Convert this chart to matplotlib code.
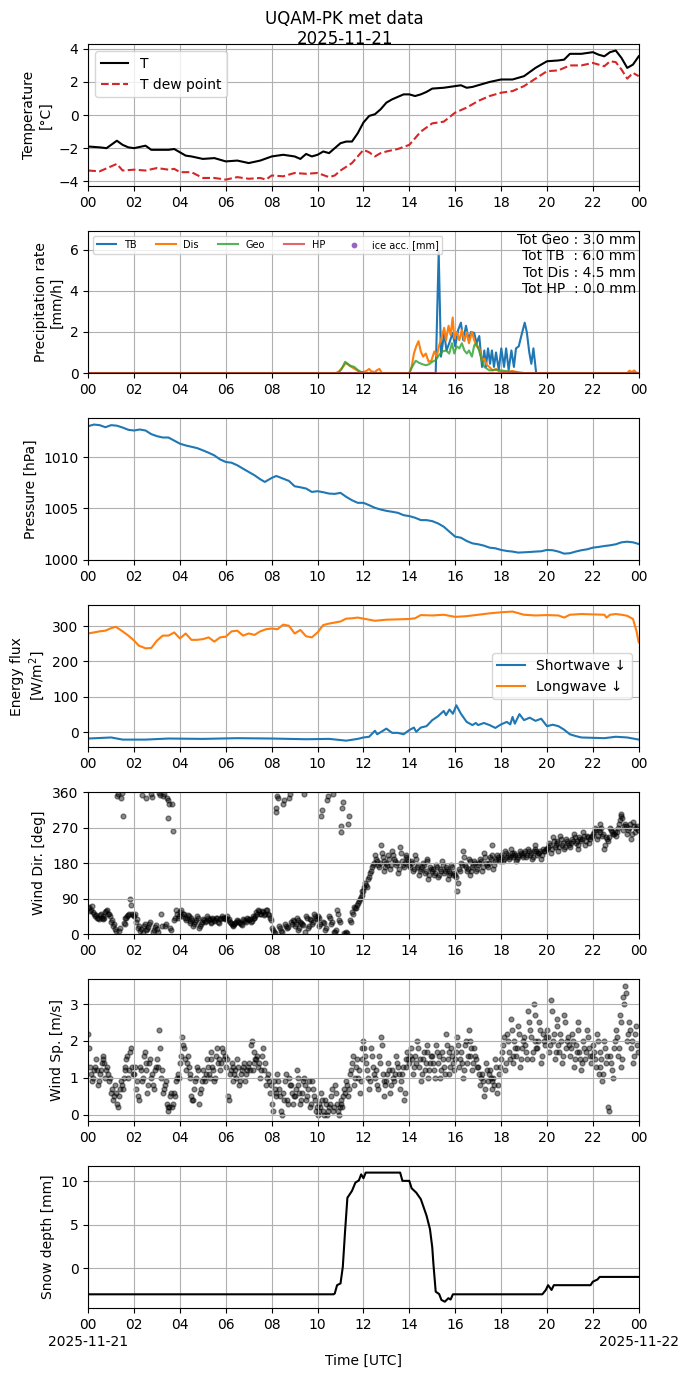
import numpy as np
import matplotlib
matplotlib.use("Agg")
import matplotlib.pyplot as plt

# ---- temperature (hours UTC, degC)
t_hours = [0, 0.5, 0.8, 1.0, 1.25, 1.5, 1.75, 2.0, 2.5, 2.75, 3.0, 3.5, 3.75, 4.0, 4.25,
           4.5, 5.0, 5.5, 6.0, 6.5, 7.0, 7.5, 8.0, 8.5, 9.0, 9.25, 9.5, 9.75, 10.0, 10.25,
           10.5, 10.75, 11.0, 11.25, 11.5, 11.75, 12.0, 12.25, 12.5, 12.75, 13.0, 13.25,
           13.5, 13.75, 14.0, 14.25, 14.5, 14.75, 15.0, 15.5, 16.0, 16.25, 16.5, 16.75,
           17.0, 17.5, 18.0, 18.5, 19.0, 19.5, 20.0, 20.5, 20.75, 21.0, 21.5, 22.0, 22.25,
           22.5, 22.75, 23.0, 23.25, 23.5, 23.75, 24.0]
temp = [-1.9, -1.95, -2.0, -1.8, -1.55, -1.8, -1.95, -2.0, -1.85, -2.1, -2.1, -2.1, -2.05,
        -2.25, -2.45, -2.5, -2.65, -2.6, -2.8, -2.75, -2.9, -2.75, -2.5, -2.4, -2.5, -2.65,
        -2.35, -2.5, -2.4, -2.2, -2.3, -2.0, -1.7, -1.6, -1.6, -1.1, -0.45, -0.05, 0.05,
        0.35, 0.75, 0.95, 1.1, 1.25, 1.25, 1.15, 1.25, 1.4, 1.6, 1.65, 1.75, 1.8, 1.65,
        1.7, 1.8, 2.0, 2.15, 2.15, 2.35, 2.85, 3.25, 3.3, 3.35, 3.7, 3.7, 3.8, 3.65, 3.55,
        3.8, 3.9, 3.45, 2.85, 3.05, 3.55]

td_hours = [0, 0.5, 1.0, 1.25, 1.5, 2.0, 2.5, 3.0, 3.5, 3.75, 4.0, 4.5, 5.0, 5.5, 6.0, 6.5,
            7.0, 7.5, 7.75, 8.0, 8.5, 9.0, 9.5, 10.0, 10.5, 10.75, 11.0, 11.5, 12.0, 12.25,
            12.5, 12.75, 13.0, 13.5, 14.0, 14.5, 15.0, 15.5, 16.0, 16.5, 17.0, 17.5, 18.0,
            18.5, 19.0, 19.5, 20.0, 20.5, 21.0, 21.5, 22.0, 22.5, 22.75, 23.0, 23.25, 23.5,
            23.75, 24.0]
dewpoint = [-3.35, -3.4, -3.1, -2.95, -3.35, -3.3, -3.35, -3.2, -3.3, -3.25, -3.45, -3.45,
            -3.8, -3.8, -3.9, -3.75, -3.85, -3.8, -3.9, -3.65, -3.7, -3.5, -3.55, -3.5,
            -3.75, -3.65, -3.35, -2.9, -2.1, -2.25, -2.5, -2.3, -2.2, -2.05, -1.8, -1.0,
            -0.5, -0.4, 0.15, 0.45, 0.85, 1.15, 1.35, 1.45, 1.75, 2.2, 2.65, 2.7, 3.0, 3.0,
            3.15, 2.95, 3.25, 3.2, 2.75, 2.2, 2.55, 2.35]

# ---- precipitation rate (mm/h)
tb_hours = [0, 15.15, 15.28, 15.38, 15.52, 15.62, 15.74, 15.89, 16.0, 16.13, 16.25, 16.35,
            16.47, 16.59, 16.69, 16.83, 16.93, 17.05, 17.17, 17.27, 17.34, 17.43, 17.52,
            17.6, 17.69, 17.78, 17.9, 18.01, 18.13, 18.22, 18.33, 18.45, 18.56, 18.65,
            18.77, 18.88, 19.03, 19.12, 19.23, 19.32, 19.41, 19.53, 24]
tb_rate = [0, 0, 5.9, 0.8, 1.95, 1.1, 1.45, 1.95, 1.3, 2.1, 2.45, 1.6, 2.3, 1.6, 2.0, 1.95,
           1.45, 1.8, 0.3, 1.1, 0.3, 1.2, 0.45, 1.1, 0.3, 1.0, 0.15, 1.2, 0.3, 1.2, 0.15,
           1.1, 0.3, 1.2, 1.3, 1.8, 2.45, 2.0, 1.0, 0.45, 1.2, 0.0, 0]

dis_hours = [0, 10.8, 10.95, 11.1, 11.25, 11.4, 11.55, 11.7, 11.85, 12.0, 12.15, 12.25,
             12.35, 12.5, 12.6, 12.7, 12.8, 14.0, 14.1, 14.2, 14.3, 14.4, 14.5, 14.6,
             14.72, 14.84, 14.96, 15.09, 15.19, 15.3, 15.4, 15.52, 15.6, 15.71, 15.8,
             15.89, 15.96, 16.06, 16.18, 16.29, 16.4, 16.5, 16.6, 16.73, 16.83, 16.93,
             17.05, 17.17, 17.27, 17.37, 17.49, 17.63, 17.78, 17.93, 18.2, 18.5, 18.8,
             19.0, 23.5, 23.6, 23.7, 23.8, 23.9, 24]
dis_rate = [0, 0, 0.1, 0.3, 0.5, 0.35, 0.25, 0.15, 0.05, 0.05, 0.12, 0.2, 0.08, 0.05, 0.15,
            0.2, 0.0, 0.0, 0.3, 0.95, 1.3, 1.55, 1.05, 0.8, 0.95, 0.55, 0.6, 1.05, 0.8,
            1.35, 1.7, 2.2, 1.6, 2.3, 1.85, 2.7, 1.7, 2.0, 1.6, 2.1, 1.55, 2.0, 1.45, 2.0,
            1.6, 1.3, 1.2, 0.6, 0.7, 0.4, 0.3, 0.13, 0.2, 0.07, 0.05, 0.1, 0.02, 0.0, 0.0,
            0.12, 0.05, 0.13, 0.02, 0]

geo_hours = [0, 10.9, 11.05, 11.2, 11.3, 11.45, 11.6, 11.75, 11.9, 12.1, 14.0, 14.12,
             14.28, 14.42, 14.57, 14.72, 14.86, 15.0, 15.15, 15.3, 15.45, 15.6, 15.74,
             15.86, 15.96, 16.06, 16.18, 16.29, 16.4, 16.51, 16.6, 16.73, 16.83, 16.93,
             17.05, 17.17, 17.27, 17.49, 17.78, 18.2, 18.5, 18.8, 19.0, 24]
geo_rate = [0, 0, 0.2, 0.55, 0.45, 0.35, 0.3, 0.15, 0.05, 0.0, 0.0, 0.3, 0.6, 0.5, 0.43,
            0.38, 0.43, 0.55, 0.63, 0.88, 1.05, 1.1, 0.95, 1.45, 0.95, 1.3, 1.2, 1.45, 1.1,
            0.95, 1.1, 0.8, 1.35, 1.45, 1.05, 0.55, 0.3, 0.13, 0.16, 0.1, 0.05, 0.02, 0.0, 0]

hp_hours = [0, 24]
hp_rate = [0, 0]

precip_totals = {"Geo": 3.0, "TB": 6.0, "Dis": 4.5, "HP": 0.0}

# ---- pressure (hPa)
p_hours = [0, 0.25, 0.5, 0.75, 1.0, 1.25, 1.5, 1.75, 2.0, 2.25, 2.5, 2.75, 3.0, 3.25, 3.5,
           3.75, 4.0, 4.25, 4.5, 4.75, 5.0, 5.25, 5.5, 5.75, 6.0, 6.25, 6.5, 6.75, 7.0,
           7.25, 7.5, 7.7, 8.0, 8.2, 8.5, 8.75, 9.0, 9.25, 9.5, 9.75, 10.0, 10.25, 10.5,
           10.75, 11.0, 11.25, 11.5, 11.75, 12.0, 12.25, 12.5, 12.75, 13.0, 13.25, 13.5,
           13.75, 14.0, 14.25, 14.5, 14.75, 15.0, 15.25, 15.5, 15.75, 16.0, 16.25, 16.5,
           16.75, 17.0, 17.25, 17.5, 17.75, 18.0, 18.25, 18.5, 18.75, 19.0, 19.25, 19.5,
           19.75, 20.0, 20.25, 20.5, 20.75, 21.0, 21.25, 21.5, 21.75, 22.0, 22.25, 22.5,
           22.75, 23.0, 23.25, 23.5, 23.75, 24.0]
pressure = [1013.0, 1013.16, 1013.1, 1012.9, 1013.1, 1013.05, 1012.87, 1012.65, 1012.58,
            1012.68, 1012.58, 1012.23, 1012.03, 1011.9, 1011.9, 1011.6, 1011.3, 1011.13,
            1011.0, 1010.87, 1010.65, 1010.42, 1010.16, 1009.77, 1009.52, 1009.45, 1009.2,
            1008.87, 1008.55, 1008.23, 1007.84, 1007.58, 1007.97, 1008.16, 1007.9, 1007.68,
            1007.16, 1007.06, 1006.94, 1006.61, 1006.68, 1006.58, 1006.45, 1006.42,
            1006.52, 1006.13, 1005.8, 1005.55, 1005.55, 1005.32, 1005.06, 1004.9, 1004.77,
            1004.68, 1004.58, 1004.35, 1004.26, 1004.1, 1003.87, 1003.87, 1003.77,
            1003.55, 1003.23, 1002.74, 1002.26, 1002.16, 1001.84, 1001.61, 1001.52,
            1001.39, 1001.19, 1001.13, 1000.97, 1000.87, 1000.81, 1000.71, 1000.74,
            1000.77, 1000.81, 1000.84, 1000.97, 1000.94, 1000.81, 1000.61, 1000.65,
            1000.81, 1000.94, 1001.03, 1001.19, 1001.26, 1001.35, 1001.42, 1001.52,
            1001.71, 1001.77, 1001.71, 1001.55]

# ---- radiation (W/m2)
lw_hours = [0, 0.5, 0.75, 1.0, 1.2, 1.5, 1.75, 2.0, 2.2, 2.5, 2.75, 3.0, 3.25, 3.5, 3.75,
            4.0, 4.25, 4.5, 4.75, 5.0, 5.25, 5.5, 5.75, 6.0, 6.25, 6.5, 6.75, 7.0, 7.25,
            7.5, 7.75, 8.0, 8.25, 8.5, 8.75, 9.0, 9.25, 9.5, 9.75, 10.0, 10.25, 10.5,
            10.75, 11.0, 11.25, 11.5, 11.75, 12.0, 12.5, 13.0, 13.5, 14.0, 14.25, 14.5,
            15.0, 15.5, 16.0, 16.5, 17.0, 17.5, 18.0, 18.5, 19.0, 19.5, 20.0, 20.5, 20.75,
            21.0, 21.5, 22.0, 22.5, 22.6, 22.75, 23.0, 23.25, 23.5, 23.75, 23.9, 24.0]
longwave = [279, 285, 287, 294, 298, 285, 273, 259, 245, 237, 238, 259, 273, 273, 282, 265,
            279, 261, 261, 263, 268, 256, 268, 270, 285, 287, 273, 279, 275, 285, 291, 293,
            291, 304, 301, 279, 289, 271, 268, 282, 303, 307, 310, 313, 321, 322, 324, 321,
            315, 318, 319, 320, 322, 331, 330, 332, 326, 328, 332, 336, 339, 341, 332, 330,
            331, 330, 324, 332, 334, 333, 332, 324, 332, 334, 332, 329, 320, 287, 254]

sw_hours = [0, 1.0, 1.5, 2.5, 3.5, 5.0, 6.5, 8.0, 9.5, 10.5, 11.25, 11.75, 12.0, 12.25,
            12.5, 12.6, 13.0, 13.25, 13.5, 13.75, 14.0, 14.2, 14.3, 14.5, 14.75, 15.0,
            15.25, 15.5, 15.6, 15.75, 15.9, 16.05, 16.25, 16.5, 16.75, 16.9, 17.0, 17.25,
            17.5, 17.75, 18.0, 18.25, 18.4, 18.5, 18.6, 18.8, 19.0, 19.25, 19.5, 19.75,
            20.0, 20.25, 20.5, 20.75, 21.0, 21.25, 21.5, 22.0, 22.5, 23.0, 23.5, 24.0]
shortwave = [-18, -15, -21, -21, -18, -19, -17, -18, -20, -19, -24, -19, -15, -13, 4, -6,
             10, -2, -2, -6, 6, 13, 1, 13, 17, 34, 45, 60, 48, 64, 52, 76, 52, 29, 20, 26,
             20, 26, 20, 12, 22, 29, 22, 43, 24, 51, 34, 41, 32, 38, 17, 21, 17, 7, -6,
             -11, -15, -16, -17, -13, -15, -21]

# ---- wind, one row per hour, 2.5 min sampling
wind_dir_rows = [
    [65, 70, 58, 62, 72, 55, 50, 45, 48, 40, 42, 38, 48, 52, 42, 45, 38, 40, 55, 58, 60, 52, 50, 45],
    [30, 35, 20, 25, 12, 8, 350, 355, 8, 15, 345, 358, 300, 28, 25, 40, 40, 45, 48, 52, 88, 75, 52, 48],
    [45, 50, 30, 38, 15, 20, 8, 12, 352, 5, 20, 25, 345, 10, 12, 18, 25, 30, 355, 348, 5, 10, 18, 22],
    [12, 5, 358, 352, 50, 20, 350, 355, 20, 25, 345, 340, 295, 330, 15, 10, 330, 262, 35, 40, 60, 50, 40, 45],
    [55, 60, 45, 50, 50, 42, 35, 40, 48, 45, 28, 32, 40, 35, 20, 25, 30, 35, 45, 40, 15, 20, 25, 30],
    [38, 35, 30, 32, 45, 42, 35, 38, 28, 30, 40, 38, 32, 35, 42, 40, 30, 28, 38, 40, 45, 42, 40, 38],
    [42, 45, 35, 38, 30, 28, 25, 22, 20, 25, 28, 30, 35, 32, 30, 28, 25, 22, 38, 35, 32, 30, 40, 38],
    [35, 38, 30, 32, 45, 42, 40, 45, 55, 50, 62, 58, 50, 52, 58, 55, 48, 52, 60, 62, 52, 48, 40, 35],
    [15, 10, 5, 2, 310, 320, 350, 345, 20, 15, 8, 5, 330, 340, 25, 20, 15, 18, 345, 355, 30, 25, 35, 32],
    [20, 25, 40, 35, 10, 15, 30, 28, 25, 22, 355, 5, 45, 40, 15, 20, 38, 35, 25, 30, 50, 45, 40, 38],
    [45, 42, 20, 25, 300, 315, 30, 28, 10, 15, 340, 350, 45, 40, 25, 30, 355, 5, 5, 10, 60, 50, 35, 30],
    [260, 275, 320, 335, 2, 0, 5, 3, 280, 300, 35, 30, 55, 50, 70, 65, 65, 75, 80, 85, 90, 95, 100, 110],
    [110, 120, 130, 125, 120, 140, 145, 155, 160, 170, 175, 180, 200, 190, 185, 175, 170, 180, 225, 205, 195, 185, 160, 170],
    [180, 175, 200, 190, 165, 175, 210, 200, 190, 185, 175, 180, 155, 165, 220, 205, 185, 175, 170, 180, 200, 195, 190, 185],
    [175, 170, 185, 180, 160, 165, 200, 190, 170, 175, 150, 160, 165, 170, 180, 175, 155, 160, 190, 185, 140, 150, 170, 165],
    [160, 165, 150, 155, 175, 170, 145, 150, 165, 160, 185, 175, 155, 160, 170, 165, 140, 150, 160, 155, 175, 170, 150, 155],
    [150, 145, 110, 130, 165, 160, 180, 175, 210, 195, 175, 170, 160, 165, 190, 185, 150, 160, 170, 175, 185, 180, 160, 165],
    [175, 180, 190, 185, 160, 170, 205, 195, 180, 175, 170, 180, 195, 190, 225, 200, 165, 175, 185, 190, 200, 195, 190, 185],
    [200, 195, 185, 190, 210, 205, 195, 200, 190, 195, 215, 205, 200, 195, 205, 200, 185, 190, 195, 200, 210, 205, 200, 195],
    [205, 210, 195, 200, 215, 210, 200, 205, 190, 195, 210, 215, 225, 210, 200, 205, 205, 210, 190, 200, 215, 210, 210, 215],
    [215, 220, 230, 225, 205, 215, 245, 235, 220, 225, 235, 230, 210, 220, 250, 240, 225, 230, 215, 220, 240, 235, 230, 225],
    [220, 230, 240, 235, 255, 245, 230, 235, 215, 225, 245, 240, 235, 240, 260, 250, 225, 235, 250, 245, 230, 240, 245, 250],
    [255, 260, 270, 265, 240, 250, 265, 260, 280, 270, 250, 255, 215, 225, 245, 240, 235, 245, 270, 265, 260, 255, 255, 260],
    [250, 260, 270, 280, 290, 300, 305, 295, 265, 275, 280, 275, 255, 265, 270, 280, 240, 255, 285, 275, 260, 270, 275, 265],
]
wind_sp_rows = [
    [2.2, 1.8, 1.3, 1.1, 0.9, 1.0, 1.2, 1.3, 1.5, 1.2, 0.8, 0.9, 1.1, 1.2, 1.4, 1.5, 1.6, 1.4, 1.0, 1.2, 1.3, 1.1, 0.9, 1.0],
    [0.6, 0.7, 0.4, 0.5, 0.8, 0.6, 0.3, 0.2, 0.5, 0.7, 0.9, 0.8, 0.7, 1.0, 1.2, 1.3, 1.5, 1.6, 1.0, 1.2, 1.7, 1.8, 1.3, 1.1],
    [1.1, 1.3, 0.7, 0.9, 0.5, 0.4, 1.3, 1.2, 0.9, 1.0, 1.6, 1.7, 1.2, 1.4, 0.6, 0.8, 1.4, 1.5, 1.0, 1.1, 0.8, 0.7, 1.2, 1.3],
    [1.5, 1.3, 2.3, 1.8, 1.0, 1.2, 0.6, 0.7, 0.8, 0.9, 0.3, 0.2, 0.1, 0.2, 0.5, 0.6, 0.2, 0.3, 0.6, 0.5, 0.9, 1.0, 1.1, 1.0],
    [1.4, 1.6, 2.1, 1.9, 1.8, 1.5, 1.2, 1.4, 1.6, 1.3, 1.0, 1.1, 0.5, 0.4, 0.4, 0.7, 0.9, 1.0, 1.3, 1.2, 0.3, 0.6, 0.7, 0.9],
    [1.2, 1.0, 0.9, 1.1, 1.5, 1.3, 1.1, 1.0, 1.7, 1.5, 1.3, 1.2, 0.9, 1.0, 1.6, 1.8, 1.4, 1.5, 1.2, 1.4, 1.8, 1.7, 1.5, 1.6],
    [1.3, 1.5, 0.5, 0.4, 1.1, 1.2, 1.4, 1.3, 0.9, 1.1, 1.2, 1.0, 1.5, 1.3, 0.8, 0.9, 1.1, 1.2, 1.3, 1.4, 0.9, 1.1, 1.2, 1.3],
    [1.4, 1.2, 1.9, 2.0, 1.2, 1.4, 1.7, 1.5, 1.5, 1.6, 1.3, 1.4, 1.0, 1.2, 1.6, 1.8, 1.2, 1.4, 0.8, 1.0, 1.1, 0.9, 0.6, 0.8],
    [0.3, 0.1, 0.9, 0.7, 0.5, 0.6, 1.1, 0.9, 0.7, 0.5, 0.1, 0.0, 0.6, 0.4, 0.9, 1.1, 0.4, 0.3, 1.0, 0.8, 0.8, 0.6, 0.3, 0.5],
    [0.5, 0.7, 1.2, 1.0, 0.8, 0.6, 0.3, 0.4, 0.6, 0.9, 1.0, 0.8, 0.4, 0.5, 0.7, 0.9, 0.2, 0.3, 0.9, 0.7, 0.5, 0.4, 0.1, 0.2],
    [0.0, 0.1, 0.3, 0.2, 0.6, 0.4, 0.1, 0.0, 0.4, 0.3, 0.0, 0.1, 0.2, 0.3, 0.5, 0.7, 0.1, 0.2, 0.8, 0.6, 0.3, 0.1, 0.0, 0.2],
    [0.4, 0.3, 0.2, 0.5, 0.7, 0.6, 0.9, 0.8, 0.5, 0.7, 1.1, 1.2, 1.4, 1.6, 0.8, 1.0, 1.3, 1.5, 1.0, 1.2, 0.6, 0.9, 1.5, 1.8],
    [2.0, 1.8, 1.6, 1.4, 1.2, 1.0, 0.7, 0.9, 1.8, 1.6, 1.3, 1.1, 1.0, 1.2, 0.8, 0.7, 1.6, 1.4, 2.1, 1.9, 1.1, 0.9, 0.5, 0.8],
    [0.9, 1.1, 1.4, 1.2, 0.6, 0.8, 1.2, 1.0, 0.9, 1.1, 1.6, 1.4, 1.3, 1.1, 0.7, 0.9, 1.1, 1.3, 0.4, 0.6, 1.5, 1.3, 1.7, 1.5],
    [1.4, 1.6, 1.8, 1.5, 1.1, 1.3, 1.6, 1.4, 2.0, 1.8, 1.3, 1.5, 0.9, 1.1, 1.5, 1.7, 1.2, 1.4, 1.7, 1.9, 1.0, 1.2, 1.4, 1.6],
    [1.6, 1.4, 1.2, 1.0, 1.9, 1.7, 1.4, 1.6, 1.0, 1.2, 1.7, 1.5, 1.3, 1.1, 2.2, 1.9, 1.5, 1.7, 1.1, 1.3, 1.8, 1.6, 1.4, 1.2],
    [1.5, 1.7, 2.1, 1.9, 1.3, 1.5, 1.7, 1.4, 1.0, 1.2, 1.9, 2.0, 1.4, 1.6, 2.3, 2.0, 1.6, 1.8, 1.2, 1.4, 1.8, 1.6, 1.5, 1.3],
    [1.3, 1.1, 0.8, 1.0, 1.1, 0.9, 0.5, 0.7, 1.4, 1.2, 0.9, 1.1, 1.2, 1.0, 0.7, 0.9, 1.0, 0.8, 1.5, 1.3, 0.6, 0.8, 1.1, 1.3],
    [1.5, 1.7, 1.9, 2.1, 1.2, 1.4, 2.2, 2.0, 1.7, 1.5, 2.6, 2.3, 1.4, 1.6, 2.0, 1.8, 1.6, 1.8, 2.4, 2.2, 1.3, 1.5, 1.8, 2.0],
    [2.1, 1.9, 1.7, 1.5, 2.8, 2.5, 2.3, 2.1, 1.5, 1.7, 3.0, 2.7, 2.0, 1.8, 1.8, 2.0, 2.5, 2.3, 1.4, 1.6, 2.2, 2.0, 1.9, 2.1],
    [2.3, 2.1, 1.7, 1.9, 3.1, 2.8, 2.0, 2.2, 1.5, 1.7, 2.6, 2.4, 1.9, 1.7, 2.2, 2.0, 1.4, 1.6, 2.7, 2.5, 1.8, 2.0, 2.1, 1.9],
    [1.6, 1.8, 2.2, 2.0, 1.3, 1.5, 1.9, 1.7, 2.5, 2.3, 1.7, 1.5, 1.2, 1.4, 2.0, 1.8, 1.5, 1.7, 2.3, 2.1, 1.8, 1.6, 1.4, 1.6],
    [1.9, 1.7, 1.5, 1.3, 2.2, 2.0, 1.1, 1.3, 1.7, 1.5, 0.9, 1.1, 2.0, 1.8, 1.4, 1.6, 0.2, 0.1, 1.6, 1.4, 1.2, 1.0, 1.8, 2.0],
    [2.3, 2.1, 1.6, 1.8, 2.7, 2.5, 1.3, 1.5, 3.2, 3.0, 3.5, 3.3, 2.0, 2.2, 2.5, 2.3, 1.8, 2.0, 1.4, 1.6, 2.2, 2.4, 1.9, 1.7],
]

# ---- snow depth (mm)
snow_hours = [0, 10.7, 10.75, 10.85, 11.0, 11.1, 11.2, 11.3, 11.5, 11.65, 11.8, 11.9, 12.0,
              12.1, 13.6, 13.7, 14.0, 14.1, 14.3, 14.5, 14.6, 14.75, 14.9, 15.0, 15.05,
              15.15, 15.3, 15.4, 15.55, 15.7, 15.8, 15.9, 19.8, 19.95, 20.05, 20.2, 20.3,
              21.9, 22.0, 22.2, 22.3, 24.0]
snow_depth = [-3.0, -3.0, -2.9, -1.95, -1.75, 0.15, 4.3, 8.1, 8.9, 9.85, 10.1, 10.8, 10.35,
              11.0, 11.0, 10.05, 10.05, 9.2, 8.7, 7.95, 7.2, 6.05, 4.5, 2.4, 0.5, -2.7,
              -2.97, -3.65, -3.85, -3.45, -3.6, -3.0, -3.0, -2.5, -1.95, -2.5, -1.95, -1.95,
              -1.55, -1.3, -1.0, -1.0]

hour_ticks = list(range(0, 25, 2))
hour_labels = ["%02d" % (h % 24) for h in hour_ticks]
day_labels = ["2025-11-21", "2025-11-22"]


def setup_time_axis(ax):
    ax.set_xlim(0, 24)
    ax.set_xticks(hour_ticks)
    ax.set_xticklabels(hour_labels)
    ax.grid(True)


fig, axes = plt.subplots(7, 1, figsize=(6.89, 13.77))
fig.subplots_adjust(left=0.128, right=0.927, top=0.968, bottom=0.050, hspace=0.317)
fig.suptitle("UQAM-PK met data\n2025-11-21", y=0.993)

# temperature
ax = axes[0]
ax.plot(t_hours, temp, color="k", label="T")
ax.plot(td_hours, dewpoint, color="tab:red", ls="--", label="T dew point")
ax.set_ylabel("Temperature\n[°C]")
ax.legend(loc="upper left")
setup_time_axis(ax)

# precipitation
ax = axes[1]
ax.plot(tb_hours, tb_rate, color="tab:blue", label="TB")
ax.plot(dis_hours, dis_rate, color="tab:orange", label="Dis")
ax.plot(geo_hours, geo_rate, color="tab:green", alpha=0.8, label="Geo")
ax.plot(hp_hours, hp_rate, color="tab:red", alpha=0.7, label="HP")
ax.scatter([], [], s=10, color="tab:purple", label="ice acc. [mm]")
ax.set_ylim(0, 6.9)
ax.set_ylabel("Precipitation rate\n[mm/h]")
ax.legend(loc="upper left", ncol=5, fontsize=7)
tot_txt = "\n".join([
    "Tot Geo : %.1f mm" % precip_totals["Geo"],
    "Tot TB  : %.1f mm" % precip_totals["TB"],
    "Tot Dis : %.1f mm" % precip_totals["Dis"],
    "Tot HP  : %.1f mm" % precip_totals["HP"],
])
ax.text(0.995, 0.985, tot_txt, transform=ax.transAxes, ha="right", va="top",
        multialignment="right")
setup_time_axis(ax)

# pressure
ax = axes[2]
ax.plot(p_hours, pressure, color="tab:blue")
ax.set_ylabel("Pressure [hPa]")
ax.set_yticks([1000, 1005, 1010])
setup_time_axis(ax)

# radiation
ax = axes[3]
ax.plot(sw_hours, shortwave, color="tab:blue", label="Shortwave ↓")
ax.plot(lw_hours, longwave, color="tab:orange", label="Longwave ↓")
ax.set_ylabel("Energy flux\n[W/m$^2$]")
ax.legend(loc="center right")
setup_time_axis(ax)

wind_hours = np.arange(24 * 24) / 24.0

# wind direction
ax = axes[4]
ax.scatter(wind_hours, np.concatenate(wind_dir_rows), s=12, color="k", alpha=0.45)
ax.set_ylim(0, 360)
ax.set_yticks([0, 90, 180, 270, 360])
ax.set_ylabel("Wind Dir. [deg]")
setup_time_axis(ax)

# wind speed
ax = axes[5]
ax.scatter(wind_hours, np.concatenate(wind_sp_rows), s=12, color="k", alpha=0.45)
ax.set_ylabel("Wind Sp. [m/s]")
setup_time_axis(ax)

# snow depth
ax = axes[6]
ax.plot(snow_hours, snow_depth, color="k")
ax.set_ylabel("Snow depth [mm]")
setup_time_axis(ax)
for xpos, day in zip([0, 24], day_labels):
    ax.annotate(day, xy=(xpos, 0), xycoords=("data", "axes fraction"),
                xytext=(0, -19), textcoords="offset points", ha="center", va="top")
ax.set_xlabel("Time [UTC]", labelpad=16)

fig.savefig("out.png", dpi=100)
